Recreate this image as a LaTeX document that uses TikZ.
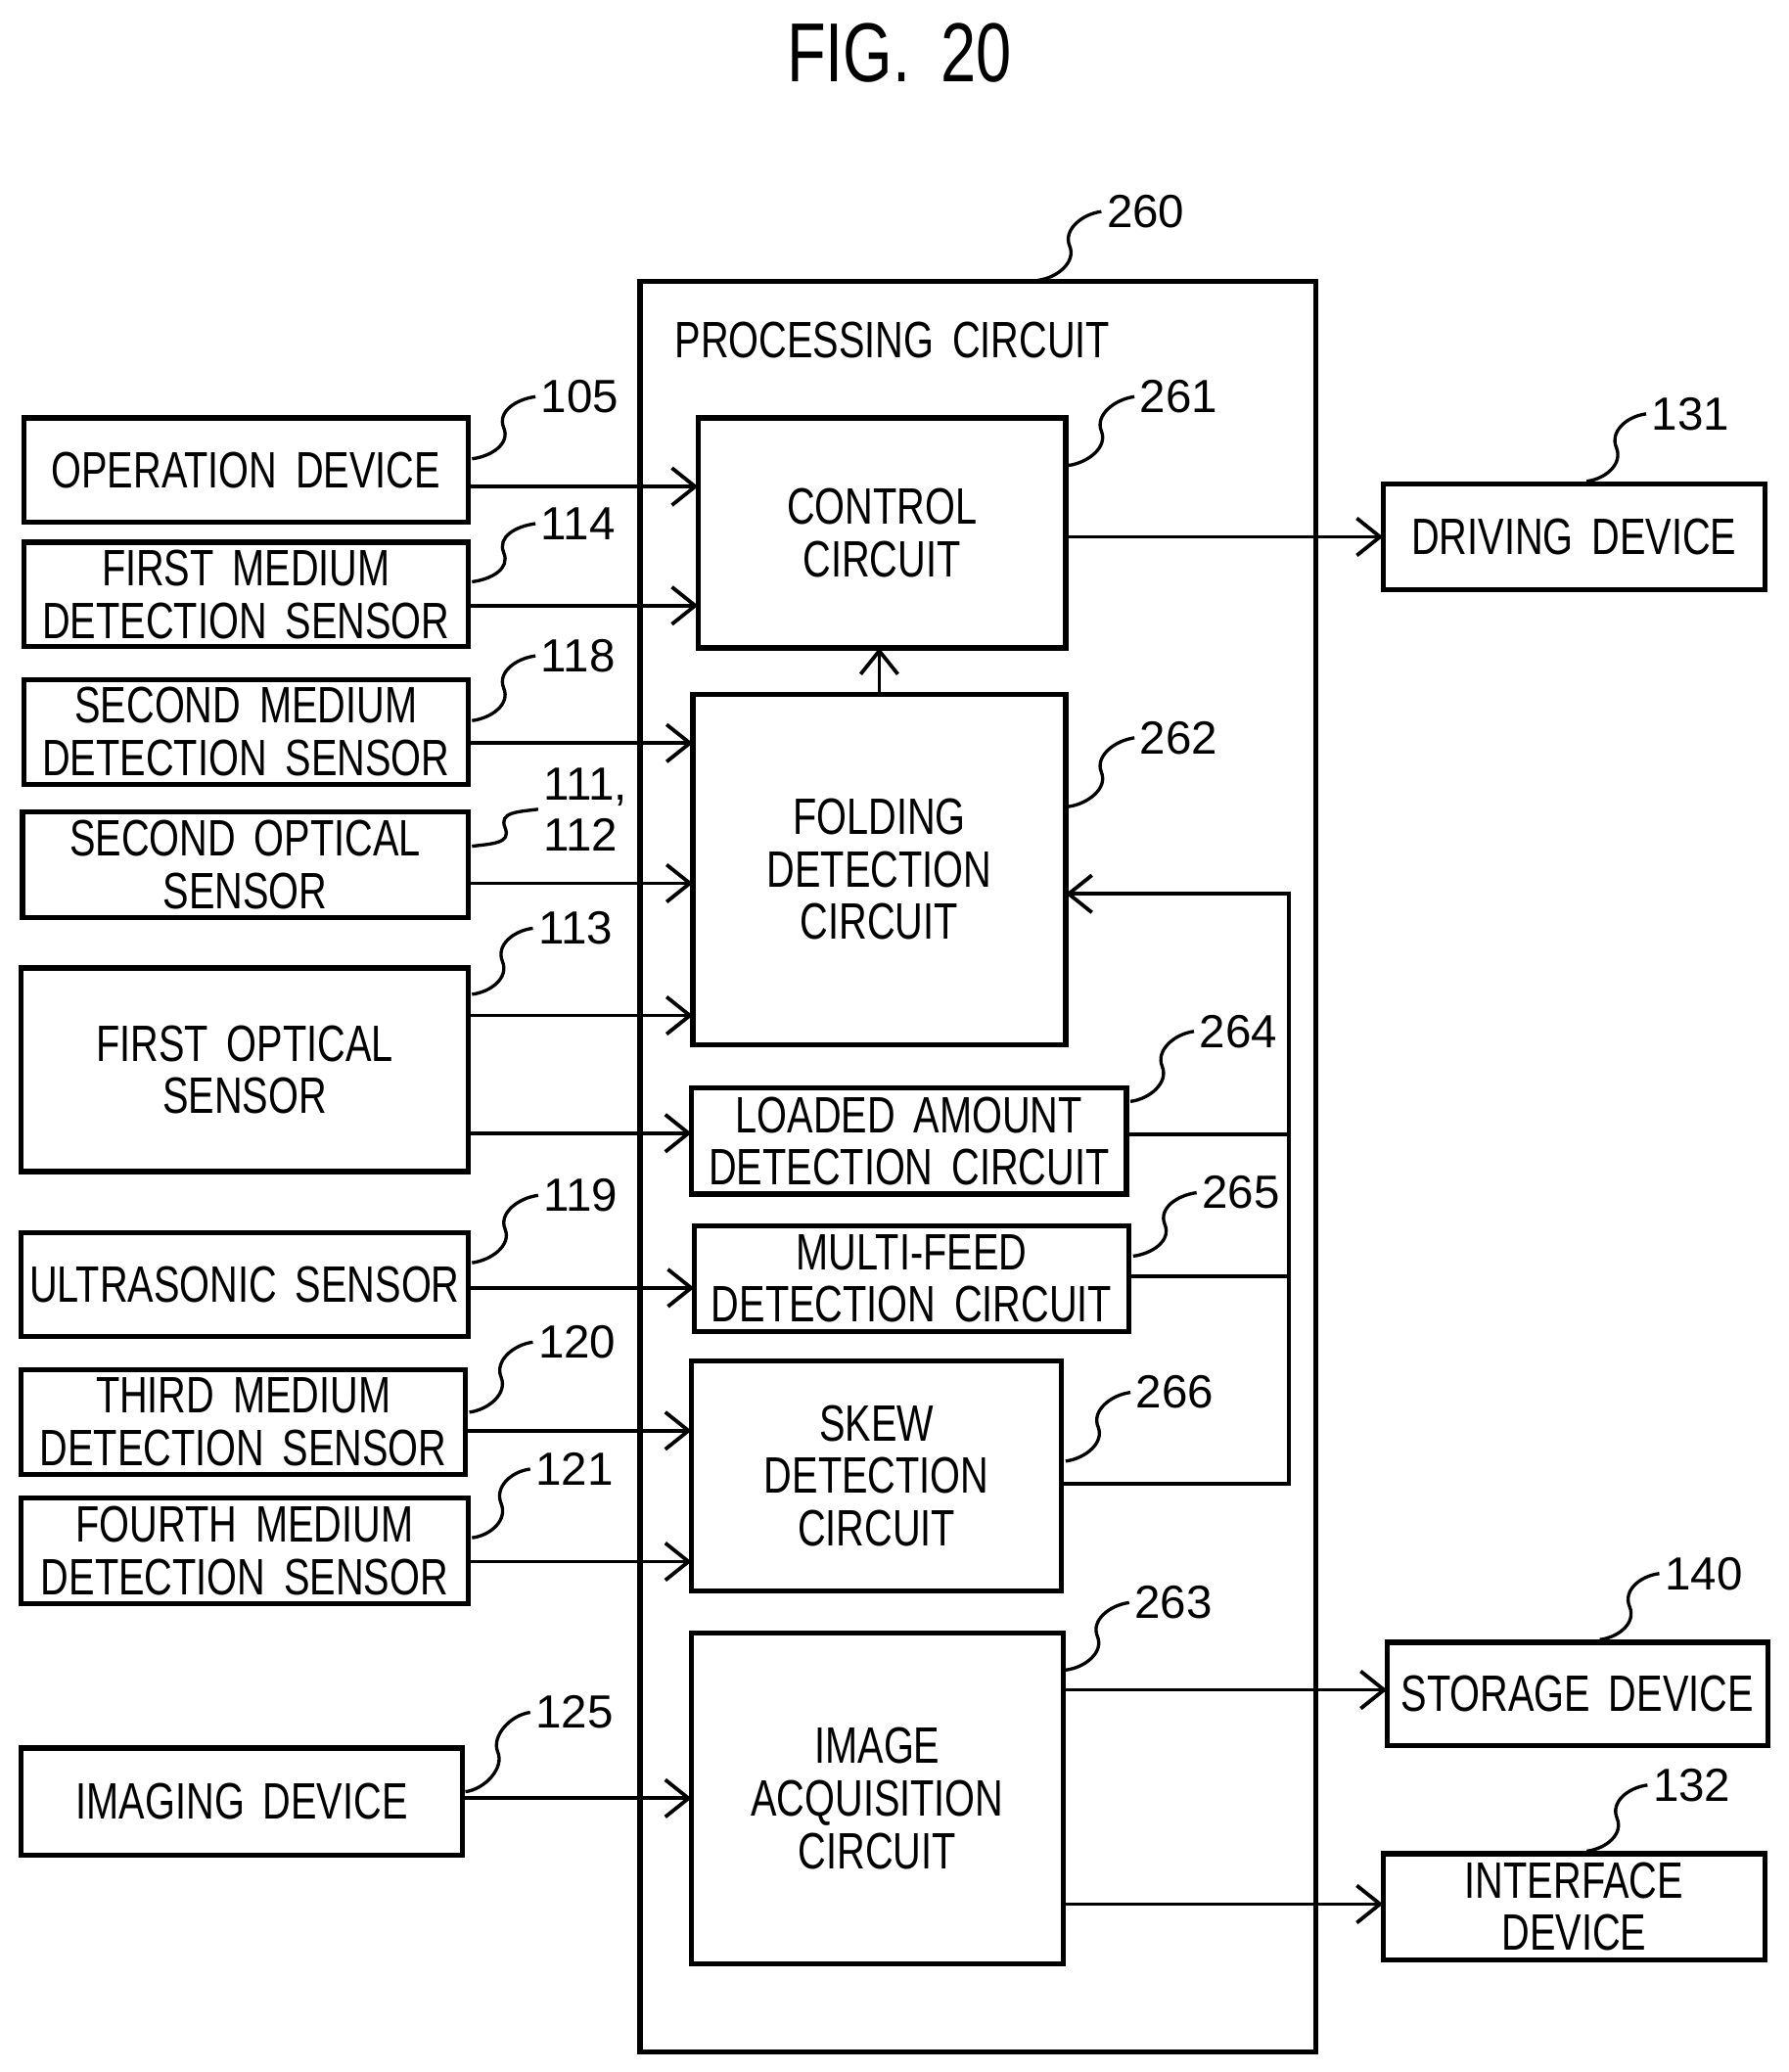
\documentclass[tikz,border=0pt]{standalone}
\usepackage{fontspec}
\setmainfont{Liberation Sans}[FakeStretch=0.76,WordSpace=1.7]
\newfontfamily\numfont{Liberation Sans}
\usetikzlibrary{arrows.meta,calc}
\begin{document}
\begin{tikzpicture}[x=0.01cm,y=-0.01cm,
  box/.style={draw,line width=1.1pt,inner sep=0pt,outer sep=0pt,align=center,font=\fontsize{11}{11.3}\selectfont},
  lbl/.style={anchor=west,inner sep=1pt,font=\numfont\fontsize{10}{11}\selectfont,align=left},
  sq/.style={line width=0.7pt},
  conn/.style={line width=0.8pt,-{Straight Barb[length=5pt,width=8pt]}},
  ln/.style={line width=0.8pt}]
\useasboundingbox (0,0) rectangle (1353,1567);
\newcommand\bx[6]{\node[box,minimum width={(#4-#2)*0.01cm},minimum height={(#5-#3)*0.01cm}] (#1) at ({(#2+#4)/2},{(#3+#5)/2}) {#6};}
\newcommand\lb[5]{\node[lbl] (#1) at (#4,#5) {#2}; \draw[sq] (#3) .. controls +(15,-2) and +(5,12) .. ($(#3)!0.5!(#1.west)$) .. controls +(-5,-12) and +(-15,2) .. (#1.west);}
\node (fig) at (680,40) {\fontsize{18}{22}\selectfont FIG. 20};
% processing circuit
\bx{pc}{484}{213}{995}{1552}{}
\node[font=\fontsize{11}{12}\selectfont] (pct) at (675,257) {PROCESSING CIRCUIT};
\bx{ctl}{528}{316}{806}{490}{CONTROL\\CIRCUIT}
\bx{fold}{524}{525}{806}{790}{FOLDING\\DETECTION\\CIRCUIT}
\bx{load}{523}{823}{852}{903}{LOADED AMOUNT\\DETECTION CIRCUIT}
\bx{mf}{525}{927}{854}{1007}{MULTI-FEED\\DETECTION CIRCUIT}
\bx{skew}{523}{1029}{803}{1203}{SKEW\\DETECTION\\CIRCUIT}
\bx{img}{523}{1235}{804}{1485}{IMAGE\\ACQUISITION\\CIRCUIT}
% left
\bx{op}{18}{316}{354}{395}{OPERATION DEVICE}
\bx{s114}{18}{410}{354}{489}{FIRST MEDIUM\\DETECTION SENSOR}
\bx{s118}{18}{514}{354}{593}{SECOND MEDIUM\\DETECTION SENSOR}
\bx{s111}{17}{614}{354}{694}{SECOND OPTICAL\\SENSOR}
\bx{s113}{16}{732}{354}{886}{FIRST OPTICAL\\SENSOR}
\bx{s119}{16}{932}{354}{1011}{ULTRASONIC SENSOR}
\bx{s120}{16}{1036}{352}{1115}{THIRD MEDIUM\\DETECTION SENSOR}
\bx{s121}{16}{1133}{354}{1213}{FOURTH MEDIUM\\DETECTION SENSOR}
\bx{imd}{16}{1322}{350}{1403}{IMAGING DEVICE}
% right
\bx{drv}{1046}{366}{1335}{446}{DRIVING DEVICE}
\bx{sto}{1049}{1242}{1337}{1320}{STORAGE DEVICE}
\bx{ifc}{1046}{1402}{1335}{1482}{INTERFACE\\DEVICE}
% labels
\coordinate (c260) at (785,212); \lb{l260}{260}{c260}{833}{160}
\coordinate (c261) at (808,352); \lb{l261}{261}{c261}{858}{300}
\coordinate (c262) at (808,610); \lb{l262}{262}{c262}{858}{558}
\coordinate (c264) at (855,833); \lb{l264}{264}{c264}{903}{780}
\coordinate (c265) at (857,950); \lb{l265}{265}{c265}{905}{902}
\coordinate (c266) at (806,1105); \lb{l266}{266}{c266}{855}{1053}
\coordinate (c263) at (806,1263); \lb{l263}{263}{c263}{854}{1212}
\coordinate (c105) at (357,347); \lb{l105}{105}{c105}{405}{300}
\coordinate (c114) at (357,440); \lb{l114}{114}{c114}{405}{396}
\coordinate (c118) at (357,545); \lb{l118}{118}{c118}{405}{496}
\coordinate (c111) at (357,640); \lb{l111}{111,\\112}{c111}{407}{612}
\coordinate (c113) at (357,752); \lb{l113}{113}{c113}{403}{702}
\coordinate (c119) at (357,955); \lb{l119}{119}{c119}{407}{904}
\coordinate (c120) at (355,1068); \lb{l120}{120}{c120}{403}{1015}
\coordinate (c121) at (357,1163); \lb{l121}{121}{c121}{401}{1111}
\coordinate (c125) at (352,1355); \lb{l125}{125}{c125}{401}{1295}
\coordinate (c131) at (1200,364); \lb{l131}{131}{c131}{1245}{313}
\coordinate (c140) at (1210,1240); \lb{l140}{140}{c140}{1255}{1190}
\coordinate (c132) at (1200,1400); \lb{l132}{132}{c132}{1246}{1350}
% connectors
\draw[conn] (op.east |- 0,368) -- (ctl.west |- 0,368);
\draw[conn] (s114.east |- 0,458) -- (ctl.west |- 0,458);
\draw[conn] (s118.east |- 0,562) -- (fold.west |- 0,562);
\draw[conn] (s111.east |- 0,668) -- (fold.west |- 0,668);
\draw[conn] (s113.east |- 0,768) -- (fold.west |- 0,768);
\draw[conn] (s113.east |- 0,857) -- (load.west |- 0,857);
\draw[conn] (s119.east |- 0,974) -- (mf.west |- 0,974);
\draw[conn] (s120.east |- 0,1082) -- (skew.west |- 0,1082);
\draw[conn] (s121.east |- 0,1181) -- (skew.west |- 0,1181);
\draw[conn] (imd.east |- 0,1360) -- (img.west |- 0,1360);
\draw[conn] (fold.north -| 665,0) -- (ctl.south -| 665,0);
\draw[conn] (ctl.east |- 0,406) -- (drv.west |- 0,406);
\draw[conn] (img.east |- 0,1278) -- (sto.west |- 0,1278);
\draw[conn] (img.east |- 0,1440) -- (ifc.west |- 0,1440);
\coordinate (fb) at (975,1122);
\draw[ln] (load.east |- 0,858) -- (975,858);
\draw[ln] (mf.east |- 0,965) -- (975,965);
\draw[conn] (skew.east |- fb) -- (fb) -- (975,676) -- (fold.east |- 0,676);
\end{tikzpicture}
\end{document}
